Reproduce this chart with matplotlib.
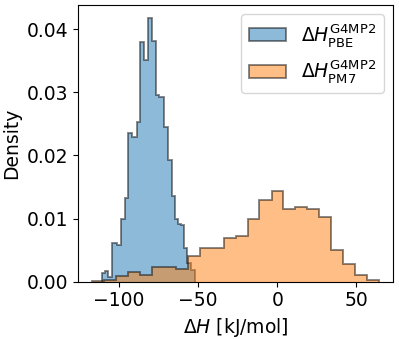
import numpy as np
import matplotlib
matplotlib.use("Agg")
import matplotlib.pyplot as plt

# bin edges and densities (kJ/mol)
pbe_edges = [-110.9, -108.8, -106.8, -104.2, -101.5, -98.7, -96.2, -94.1, -91.6, -88.8,
             -86.8, -84.0, -81.5, -79.0, -76.7, -74.8, -71.4, -69.3, -66.8, -64.7,
             -62.6, -60.9, -58.8, -56.7, -54.7, -52.1]
pbe_density = [0.0014, 0.0017, 0.0008, 0.0061, 0.0058, 0.0099, 0.0132, 0.0235, 0.0229, 0.0253,
               0.0379, 0.0351, 0.0417, 0.0381, 0.0296, 0.0292, 0.0245, 0.0193, 0.0135, 0.0100,
               0.0092, 0.0090, 0.0053, 0.0030, 0.0018]

pm7_edges = [-116.8, -109.3, -101.7, -94.2, -86.6, -79.1, -71.5, -64.0, -56.4, -48.9,
             -41.3, -33.8, -26.3, -18.7, -11.2, -3.6, 3.9, 11.5, 19.0, 26.6,
             34.1, 41.7, 49.2, 56.7, 64.2]
pm7_density = [0.00016, 0.0003, 0.0009, 0.0016, 0.0011, 0.0024, 0.0024, 0.0020, 0.0040, 0.0053,
               0.0054, 0.0069, 0.0072, 0.0100, 0.0129, 0.0144, 0.0115, 0.0118, 0.0115, 0.0103,
               0.0050, 0.0028, 0.0010, 0.0003]

labels = [r"$\Delta H^{\rm G4MP2}_{\rm PBE}$", r"$\Delta H^{\rm G4MP2}_{\rm PM7}$"]

plt.rcParams["font.size"] = 13.5

fig = plt.figure(figsize=(3.99, 3.39), dpi=100)
ax = fig.add_axes([0.1955, 0.169, 0.7895, 0.816])

ax.stairs(pbe_density, pbe_edges, fill=True, facecolor="C0", edgecolor="k",
          alpha=0.5, linewidth=1.3, label=labels[0])
ax.stairs(pm7_density, pm7_edges, fill=True, facecolor="C1", edgecolor="k",
          alpha=0.5, linewidth=1.3, label=labels[1])

ax.set_xlim(-125.9, 73.2)
ax.set_ylim(0, 0.0438)
ax.set_xticks([-100, -50, 0, 50])
ax.set_yticks([0.0, 0.01, 0.02, 0.03, 0.04])
ax.set_xlabel(r"$\Delta H$ [kJ/mol]")
ax.set_ylabel("Density")
ax.legend(loc="upper right")

fig.savefig("out.png", dpi=100)
